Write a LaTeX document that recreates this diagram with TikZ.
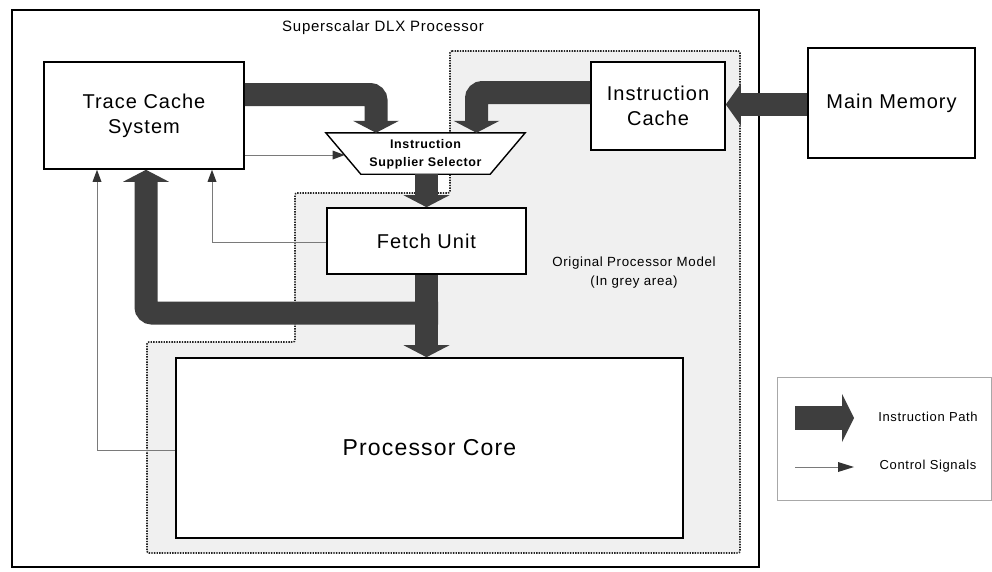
\documentclass[tikz,border=0pt]{standalone}
\usepackage{fontspec}
\setmainfont{Liberation Sans}[LetterSpace=5]
\usetikzlibrary{arrows.meta,calc}
\definecolor{adark}{HTML}{3E3E3E}
\definecolor{cgray}{HTML}{7A7A7A}
\definecolor{greyarea}{HTML}{F0F0F0}
\definecolor{legborder}{HTML}{A8A8A8}
\tikzset{
  box/.style={draw=black, line width=1.6pt, fill=white, inner sep=0pt},
  bigtext/.style={font=\fontsize{20}{25}\selectfont},
  ipath/.style={draw=adark, line width=23pt, rounded corners=6pt,
    -{Triangle[width=46pt 0 0,length=12pt 0 0,line width=0pt 0 0]}},
  csig/.style={draw=cgray, line width=0.9pt,
    -{Triangle[width=9pt 0 0,length=12pt 0 0,line width=0pt 0 0,color=black!80]}},
  dotline/.style={draw=black!85, line width=1.6pt, dash pattern=on 1.4pt off 1.2pt, rounded corners=2pt},
}
\begin{document}
\begin{tikzpicture}[x=1pt,y=-1pt, every node/.style={inner sep=0pt, align=center}]
\fill[white] (0,0) rectangle (992,571);
\useasboundingbox (0,0) rectangle (992,571);

% outer processor box
\draw[line width=2pt] (12,10) rectangle (759,567);
\node[font=\fontsize{15}{18}\selectfont] (title) at (383,28) {Superscalar DLX Processor};

% grey area
\fill[greyarea, rounded corners=2pt] (450,51) -- (740,51) -- (740,553) -- (147,553) -- (147,342) -- (295,342) -- (295,193) -- (450,193) -- cycle;
\draw[dotline] (450,51) -- (740,51) -- (740,553) -- (147,553) -- (147,342) -- (295,342) -- (295,193) -- (450,193) -- cycle;
\node[font=\fontsize{13.3}{19}\selectfont] (orig) at (634,272.5) {Original Processor Model\\(In grey area)};

% boxes
\node[box, bigtext, minimum width=200pt, minimum height=107pt] (tc) at (144,115.5) {Trace Cache\\System};
\node[box, bigtext, minimum width=134pt, minimum height=88pt] (ic) at (658,106) {Instruction\\Cache};
\node[box, bigtext, minimum width=167pt, minimum height=110pt] (mm) at (891.5,103) {Main Memory};
\node[box, bigtext, minimum width=199pt, minimum height=66pt] (fetch) at (426.5,241) {Fetch Unit};
\node[box, font=\fontsize{23}{28}\selectfont, minimum width=507pt, minimum height=180pt] (core) at (429.5,448) {Processor Core};

% selector (trapezoid)
\node[minimum width=199pt, minimum height=41pt] (sel) at (425.5,153.5) {};
\draw[fill=white, line width=1.4pt] (sel.north west) -- (sel.north east) -- ([xshift=-35pt]sel.south east) -- ([xshift=35pt]sel.south west) -- cycle;
\node[font=\bfseries\fontsize{12.5}{18}\selectfont] (seltext) at (425.5,154) {Instruction\\Supplier Selector};

% instruction paths
\draw[ipath] (tc.east |- 0,94.5) -| (sel.north -| 376,0);
\draw[ipath] (ic.west |- 0,92.5) -| (sel.north -| 476.5,0);
\draw[ipath] (sel.south -| fetch.north) -- (fetch.north);
\draw[ipath] (fetch.south) -- (core.north -| fetch.south);
\coordinate (br) at (438,313);
\draw[ipath] (br) -| (tc.south -| 146,0);
\draw[ipath, -{Triangle[width=42pt 0 0,length=15pt 0 0,line width=0pt 0 0]}] (mm.west |- 0,104.5) -- (ic.east |- 0,104.5);

% control signals
\coordinate (selL) at ($(sel.north west)!0.537!([xshift=35pt]sel.south west)$);
\draw[csig] (tc.east |- selL) -- (selL);
\draw[csig] (fetch.west |- 0,242) -| (tc.south -| 212,0);
\draw[csig] (core.west |- 0,450) -| (tc.south -| 97,0);

% legend
\draw[legborder, line width=0.8pt] (777,377) rectangle (991,500);
\coordinate (l1s) at (795,418);
\coordinate (l1e) at (854,418);
\coordinate (l2s) at (795,467);
\coordinate (l2e) at (854,467);
\draw[draw=adark, line width=24pt, -{Triangle[width=48pt 0 0,length=12pt 0 0,line width=0pt 0 0]}] (l1s) -- (l1e);
\draw[csig, -{Triangle[width=10pt 0 0,length=16pt 0 0,line width=0pt 0 0,color=black!80]}] (l2s) -- (l2e);
\node[font=\fontsize{13}{16}\selectfont] (lab1) at (928,417) {Instruction Path};
\node[font=\fontsize{13}{16}\selectfont] (lab2) at (928,466) {Control Signals};
\end{tikzpicture}
\end{document}
